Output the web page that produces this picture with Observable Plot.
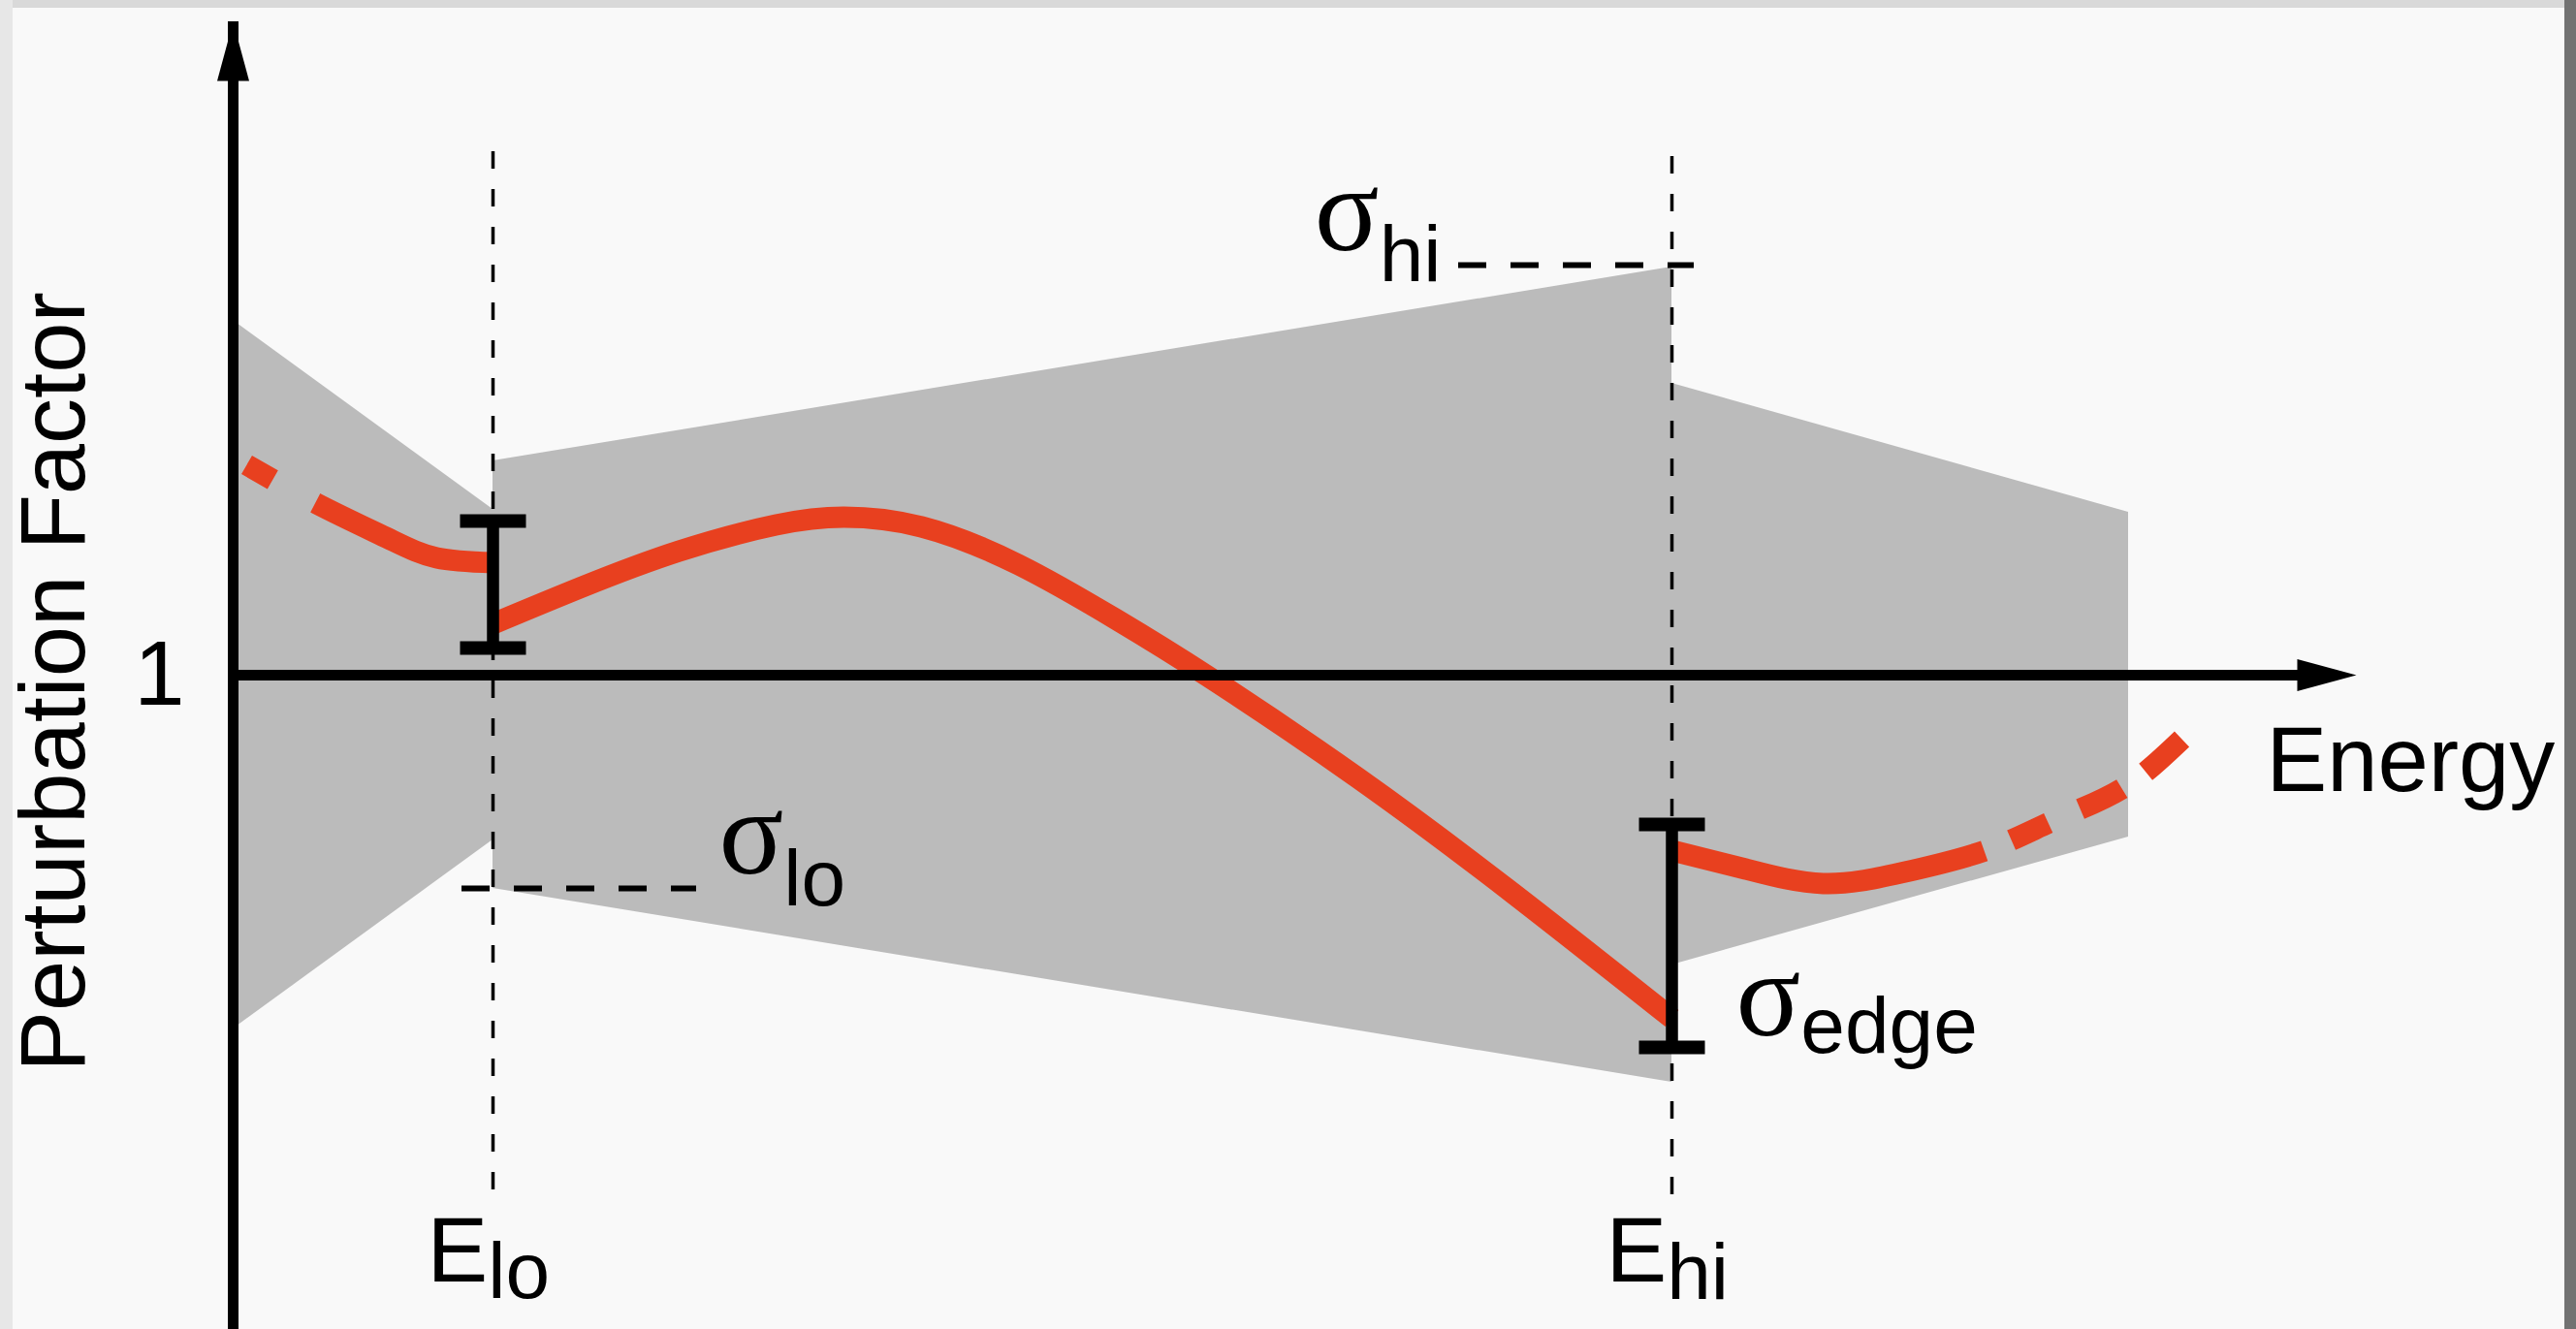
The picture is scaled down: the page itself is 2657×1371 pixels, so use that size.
<!DOCTYPE html>
<html><head><meta charset="utf-8">
<script src="https://cdn.jsdelivr.net/npm/d3@7"></script>
<script src="https://cdn.jsdelivr.net/npm/@observablehq/plot@0.6"></script>
<style>
html,body{margin:0;padding:0;width:2657px;height:1371px;overflow:hidden;background:#d9d9d9;}
#left{position:absolute;left:0;top:0;width:13px;height:1371px;background:#e7e7e7;}
#right{position:absolute;left:2645px;top:0;width:12px;height:1371px;background:#727272;}
#panel{position:absolute;left:13px;top:8px;width:2632px;height:1363px;background:#f9f9f9;}
#chart{position:absolute;left:0;top:0;}
</style></head><body>
<div id="left"></div><div id="right"></div><div id="panel"></div><div id="chart"></div>
<script>
// ---- data (energy: arbitrary units, perturbation factor: 1 = nominal) ----
const energyDomain = [0, 21.9];          // origin .. x-axis arrow tip
const factorDomain = [0.325, 1.674];     // bottom .. y-axis arrow tip
const E_lo = 2.68, E_hi = 14.84;
const sigma_hi = 1.423, sigma_lo = 0.78;

// grey uncertainty band, three pieces
const bandSegment = ["below E_lo", "below E_lo", "E_lo to E_hi", "E_lo to E_hi", "above E_hi", "above E_hi"];
const bandEnergy  = [0, 2.68, 2.68, 14.84, 14.84, 19.55];
const bandLow     = [0.635, 0.830, 0.780, 0.580, 0.701, 0.833];
const bandHigh    = [1.366, 1.171, 1.221, 1.421, 1.301, 1.168];

// red perturbation curve, three pieces
const lowEnergy  = [0.14, 0.86, 1.60, 2.10, 2.68];
const lowFactor  = [1.217, 1.177, 1.141, 1.121, 1.116];
const midEnergy  = [2.68, 3.60, 4.60, 5.60, 6.30, 7.10, 8.10, 9.10, 10.05, 11.60, 13.20, 14.84];
const midFactor  = [1.053, 1.091, 1.128, 1.155, 1.163, 1.153, 1.114, 1.058, 0.999, 0.894, 0.775, 0.646];
const highEnergy = [14.84, 15.60, 16.40, 17.20, 18.07, 18.80, 19.50, 20.10];
const highFactor = [0.819, 0.800, 0.785, 0.796, 0.819, 0.851, 0.884, 0.934];

// edge error bars
const edgeEnergy = [E_lo, E_hi];
const edgeLow    = [1.028, 0.616];
const edgeHigh   = [1.159, 0.846];

// dashed guides
const guideEnergy = [E_lo, E_hi];
const guideTop    = [1.540, 1.540];
const guideBottom = [0.469, 0.464];
const sigmaLevel  = [sigma_hi, sigma_lo];
const sigmaFrom   = [12.64, 2.36];
const sigmaTo     = [15.07, 4.78];

// texts
const yTickLabel = "1";
const yTitle = "Perturbation Factor";
const xTitle = "Energy";
const energyLabels = ["E_lo", "E_hi"];

// ---- build ----
const sans = "Liberation Sans, Arial, Helvetica, sans-serif";
const serif = "Liberation Serif, Times New Roman, serif";
const red = "#e8401f";
const grey = "#bbbbbb";

const band = bandEnergy.map((x, i) => ({seg: bandSegment[i], x, lo: bandLow[i], hi: bandHigh[i]}));
const pts = (xs, ys) => xs.map((x, i) => ({x, y: ys[i]}));
const edges = edgeEnergy.map((x, i) => ({x, lo: edgeLow[i], hi: edgeHigh[i]}));
const caps = edges.flatMap(d => [{x: d.x, y: d.lo}, {x: d.x, y: d.hi}]);
const guides = guideEnergy.map((x, i) => ({x, y1: guideBottom[i], y2: guideTop[i]}));
const sigmaGuides = sigmaLevel.map((y, i) => ({y, x1: sigmaFrom[i], x2: sigmaTo[i]}));

const arrowHead = {draw(c) { c.moveTo(0, 0); c.lineTo(-61, -16.5); c.lineTo(-61, 16.5); c.closePath(); }};
const capBar = {draw(c) { c.rect(-34, -7, 68, 14); }};
const redLine = {x: "x", y: "y", curve: "natural", stroke: red, strokeWidth: 22, strokeLinecap: "butt", strokeLinejoin: "round"};

const plot = Plot.plot({
  width: 2657, height: 1371, margin: 0,
  x: {domain: energyDomain, range: [240, 2430], axis: null},
  y: {domain: factorDomain, range: [1371, 22], axis: null},
  style: {background: "transparent", overflow: "visible"},
  marks: [
    Plot.areaY(band, {x: "x", y1: "lo", y2: "hi", z: "seg", fill: grey, curve: "linear"}),
    Plot.ruleX(guides, {x: "x", y1: "y1", y2: "y2", stroke: "black", strokeWidth: 3.5, strokeDasharray: "18,21"}),
    Plot.ruleY(sigmaGuides, {y: "y", x1: "x1", x2: "x2", stroke: "black", strokeWidth: 6, strokeDasharray: "29,25"}),
    Plot.line(pts(lowEnergy, lowFactor), {...redLine, strokeDasharray: "31,50,3000"}),
    Plot.line(pts(midEnergy, midFactor), redLine),
    Plot.line(pts(highEnergy, highFactor), {...redLine, strokeDasharray: "330,30,42,36,48,30,60"}),
    // axes
    Plot.ruleY([1], {x1: energyDomain[0], x2: energyDomain[1], stroke: "black", strokeWidth: 11, insetRight: 40, insetLeft: -5}),
    Plot.ruleX([0], {y1: factorDomain[0], y2: factorDomain[1], stroke: "black", strokeWidth: 11, insetTop: 40}),
    Plot.dot([{x: energyDomain[1], y: 1}], {x: "x", y: "y", symbol: arrowHead, fill: "black", stroke: "none"}),
    Plot.dot([{x: 0, y: factorDomain[1]}], {x: "x", y: "y", symbol: arrowHead, fill: "black", stroke: "none", rotate: -90}),
    // error bars
    Plot.ruleX(edges, {x: "x", y1: "lo", y2: "hi", stroke: "black", strokeWidth: 12.5}),
    Plot.dot(caps, {x: "x", y: "y", symbol: capBar, fill: "black", stroke: "none"}),
    // texts
    Plot.text([yTickLabel], {x: 0, y: 1, text: d => d, textAnchor: "end", dx: -50, lineAnchor: "middle", fontSize: 94, fontFamily: sans, fill: "black"}),
    Plot.text([yTitle], {x: 0, y: 1, text: d => d, rotate: -90, dx: -154, dy: 7, textAnchor: "middle", lineAnchor: "bottom", fontSize: 94, fontFamily: sans, fill: "black"}),
    Plot.text([xTitle], {x: energyDomain[1], y: 1, text: d => d, textAnchor: "start", dx: -93, dy: 119, lineAnchor: "bottom", fontSize: 94, fontFamily: sans, fill: "black"}),
    Plot.text(energyLabels.map((t, i) => ({t, x: guideEnergy[i]})), {x: "x", y: factorDomain[0], text: "t", textAnchor: "start", dx: -68, dy: -50, lineAnchor: "bottom", fontSize: 94, fontFamily: sans, fill: "black"}),
    Plot.text(["σ_hi"], {x: sigmaFrom[0], y: sigma_hi, text: d => d, textAnchor: "end", dx: -18, dy: -16, lineAnchor: "bottom", fontSize: 94, fontFamily: sans, fill: "black"}),
    Plot.text(["σ_lo"], {x: sigmaTo[1], y: sigma_lo, text: d => d, textAnchor: "start", dx: 23, dy: -16, lineAnchor: "bottom", fontSize: 94, fontFamily: sans, fill: "black"}),
    Plot.text(["σ_edge"], {x: E_hi, y: edgeLow[1], text: d => d, textAnchor: "start", dx: 66, dy: -13, lineAnchor: "bottom", fontSize: 94, fontFamily: sans, fill: "black"})
  ]
});

// subscripts: split "main_sub" into two tspans
const subShift = {"σ_hi": 32, "σ_lo": 33, "σ_edge": 18, "E_lo": 17, "E_hi": 18};
d3.select(plot).selectAll("text").each(function () {
  const t = this.textContent;
  const k = t.indexOf("_");
  if (k < 0) return;
  const main = t.slice(0, k), sub = t.slice(k + 1);
  const isSigma = main === "σ";
  this.textContent = "";
  const s = d3.select(this);
  s.append("tspan").attr("font-family", isSigma ? serif : sans).attr("font-size", isSigma ? 124 : 94).text(main);
  s.append("tspan").attr("font-family", sans).attr("font-size", 82).attr("dy", subShift[t] || 18).text(sub);
});

document.getElementById("chart").appendChild(plot);
</script>
</body></html>
